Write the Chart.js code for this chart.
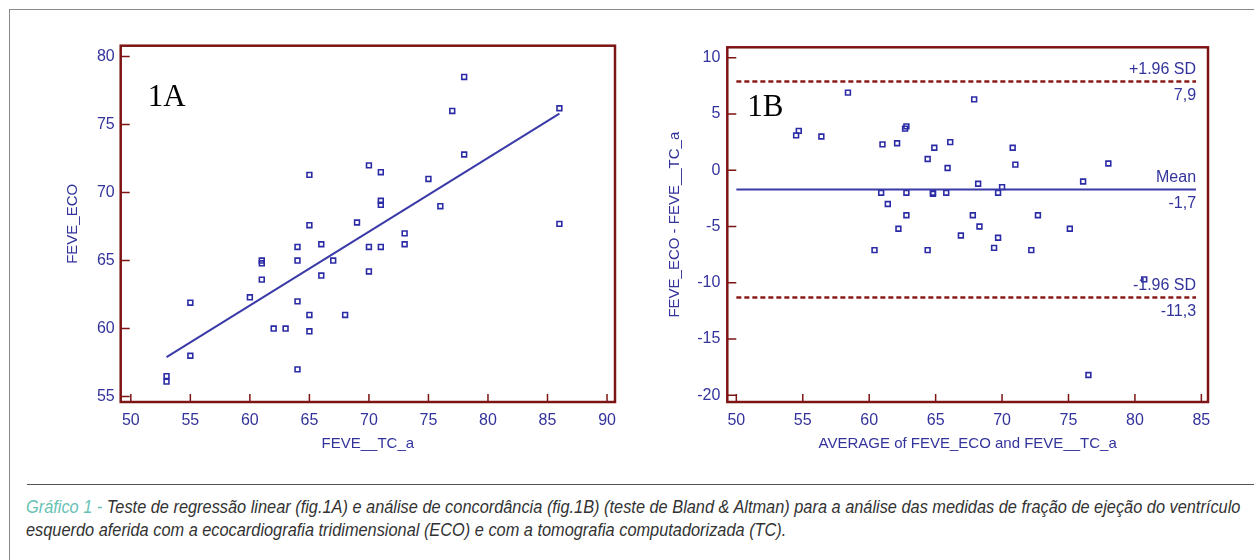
<!DOCTYPE html>
<html lang="pt">
<head>
<meta charset="utf-8">
<script src="https://cdn.jsdelivr.net/npm/chart.js@4.4.1/dist/chart.umd.min.js"></script>
<style>
    html, body { margin: 0; padding: 0; background: #fff; }
    #page { position: relative; width: 1254px; height: 560px; overflow: hidden; }
    #frame { position: absolute; left: 9px; top: 9px; width: 1260px; height: 560px;
        border-top: 1.5px solid #8a8a8a; border-left: 1.5px solid #8a8a8a; }
    #chart-a { position: absolute; left: 0; top: 0; }
    #chart-b { position: absolute; left: 640px; top: 0; }
    #rule { position: absolute; left: 27px; top: 484px; width: 1240px; border-top: 1px solid #555; }
    #caption { position: absolute; left: 26px; top: 496px; white-space: nowrap;
        transform: scaleX(0.908); transform-origin: 0 0;
        font-family: 'Liberation Sans', Arial, sans-serif;
        font-style: italic; font-size: 18px; line-height: 23px; color: #333; }
    #caption .lead { color: #66c2b4; }
</style>
</head>
<body>
<div id="page">
    <div id="frame"></div>
    <canvas id="chart-a" width="640" height="470"></canvas>
    <canvas id="chart-b" width="614" height="470"></canvas>
    <div id="rule"></div>
    <div id="caption"><span class="lead">Gráfico 1 - </span>Teste de regressão linear (fig.1A) e análise de concordância (fig.1B) (teste de Bland &amp; Altman) para a análise das medidas de fração de ejeção do ventrículo<br>esquerdo aferida com a ecocardiografia tridimensional (ECO) e com a tomografia computadorizada (TC).</div>
</div>
<script>
// 1A: FEVE_ECO x FEVE__TC_a
const tcValues = [53, 53, 55, 55, 60, 61, 61, 61, 62, 63, 64, 64, 64, 64, 65, 65, 65, 65, 66, 66,
    67, 68, 69, 70, 70, 70, 71, 71, 71, 71, 73, 73, 75, 76, 77, 78, 78, 86, 86];
const ecoValues = [56.5, 56.1, 58.0, 61.9, 62.3, 65.0, 64.8, 63.6, 60.0, 60.0, 66.0, 65.0, 62.0, 57.0, 71.3, 67.6, 61.0, 59.8, 66.2, 63.9,
    65.0, 61.0, 67.8, 72.0, 66.0, 64.2, 71.5, 69.4, 69.1, 66.0, 67.0, 66.2, 71.0, 69.0, 76.0, 78.5, 72.8, 76.2, 67.7];
const regressionX = [53, 86];
const regressionY = [57.9, 75.8];
const ticksAX = [50, 55, 60, 65, 70, 75, 80, 85, 90];
const ticksAY = [55, 60, 65, 70, 75, 80];

// 1B: Bland & Altman
const averageValues = [54.5, 54.7, 56.4, 58.4, 60.4, 60.9, 61.0, 61.4, 62.1, 62.2, 62.7, 62.8, 62.8, 62.8, 64.4, 64.4, 64.8, 64.8, 64.9, 65.8,
    65.9, 66.1, 66.9, 67.8, 67.9, 68.2, 68.3, 69.4, 69.7, 69.7, 70.0, 70.8, 71.0, 72.2, 72.7, 75.1, 76.1, 76.5, 78.0, 80.7];
const differenceValues = [3.1, 3.5, 3.0, 6.9, -7.1, -2.0, 2.3, -3.0, 2.4, -5.2, 3.7, 3.9, -2.0, -4.0, 1.0, -7.1, -2.0, -2.1, 2.0, -2.0,
    0.2, 2.5, -5.8, -4.0, 6.3, -1.2, -5.0, -6.9, -2.0, -6.0, -1.5, 2.0, 0.5, -7.1, -4.0, -5.2, -1.0, -18.2, 0.6, -9.7];
const limitsX = [50, 84.6];
const meanDiff = -1.7;
const upperLimit = 7.9;
const lowerLimit = -11.3;
const limitLabels = [
    { value: upperLimit, above: '+1.96 SD', below: '7,9' },
    { value: meanDiff, above: 'Mean', below: '-1,7' },
    { value: lowerLimit, above: '-1.96 SD', below: '-11,3' }
];
const ticksBX = [50, 55, 60, 65, 70, 75, 80, 85];
const ticksBY = [-20, -15, -10, -5, 0, 5, 10];

const BLUE = '#33339c';
const MARK = '#2b2ba6';
const FRAME = '#7d1414';
const AXIS_FONT = "'Liberation Sans', Arial, sans-serif";

const toPoints = (xs, ys) => xs.map((x, i) => ({ x, y: ys[i] }));

// ramka wykresu + krotkie kreski podzialki do srodka
const framePlugin = {
    id: 'frame',
    afterDraw(chart, args, opts) {
        const { ctx, chartArea: a, scales } = chart;
        ctx.save();
        ctx.strokeStyle = FRAME;
        ctx.lineWidth = 1.5;
        ctx.beginPath();
        scales.x.ticks.forEach(t => {
            const px = scales.x.getPixelForValue(t.value);
            ctx.moveTo(px, a.bottom);
            ctx.lineTo(px, a.bottom - 8);
        });
        scales.y.ticks.forEach(t => {
            const py = scales.y.getPixelForValue(t.value);
            ctx.moveTo(a.left, py);
            ctx.lineTo(a.left + 9, py);
        });
        ctx.stroke();
        ctx.lineWidth = 2.5;
        ctx.strokeRect(a.left, a.top, a.right - a.left, a.bottom - a.top);

        ctx.fillStyle = '#000';
        ctx.font = "31px 'Liberation Serif', 'Times New Roman', serif";
        ctx.textBaseline = 'alphabetic';
        ctx.fillText(opts.panel, a.left + opts.panelDx, a.top + opts.panelDy);
        ctx.restore();
    }
};

const limitLabelPlugin = {
    id: 'limitLabels',
    afterDatasetsDraw(chart) {
        const { ctx, scales } = chart;
        const xRight = scales.x.getPixelForValue(limitsX[1]);
        ctx.save();
        ctx.fillStyle = BLUE;
        ctx.font = `16px ${AXIS_FONT}`;
        ctx.textAlign = 'right';
        limitLabels.forEach(l => {
            const py = scales.y.getPixelForValue(l.value);
            ctx.textBaseline = 'bottom';
            ctx.fillText(l.above, xRight, py - 4);
            ctx.textBaseline = 'top';
            ctx.fillText(l.below, xRight, py + 6);
        });
        ctx.restore();
    }
};

function axis(tickValues, min, max, fit, title, titlePad, tickPad) {
    return {
        type: 'linear',
        min, max,
        afterBuildTicks: scale => { scale.ticks = tickValues.map(value => ({ value })); },
        afterFit: fit,
        grid: { display: false, drawTicks: false },
        border: { display: false },
        ticks: { color: BLUE, padding: tickPad, font: { family: AXIS_FONT, size: 16 } },
        title: { display: true, text: title, color: BLUE, padding: titlePad, font: { family: AXIS_FONT, size: 15 } }
    };
}

new Chart(document.getElementById('chart-a'), {
    type: 'scatter',
    data: {
        datasets: [
            {
                data: toPoints(regressionX, regressionY),
                showLine: true,
                borderColor: '#3a3aa8',
                borderWidth: 2,
                pointRadius: 0
            },
            {
                data: toPoints(tcValues, ecoValues),
                pointStyle: 'rect',
                pointRadius: 3.4,
                borderWidth: 1.6,
                borderColor: MARK,
                backgroundColor: 'rgba(0,0,0,0)'
            }
        ]
    },
    options: {
        responsive: false,
        animation: false,
        layout: { padding: { top: 45.7, right: 25, left: 0, bottom: 0 } },
        plugins: {
            legend: { display: false },
            tooltip: { enabled: false },
            frame: { panel: '1A', panelDx: 27, panelDy: 60 }
        },
        scales: {
            x: axis(ticksAX, 49.15, 90.67, s => { s.height = 68; }, 'FEVE__TC_a', { top: 0, bottom: 17 }, 9),
            y: axis(ticksAY, 54.6, 80.8, s => { s.width = 120.7; }, 'FEVE_ECO', { top: 64, bottom: 0 }, 6)
        }
    },
    plugins: [framePlugin]
});

new Chart(document.getElementById('chart-b'), {
    type: 'scatter',
    data: {
        datasets: [
            {
                data: toPoints(limitsX, [upperLimit, upperLimit]),
                showLine: true,
                borderColor: '#8b1a1a',
                borderWidth: 2.5,
                borderDash: [5, 3],
                pointRadius: 0
            },
            {
                data: toPoints(limitsX, [lowerLimit, lowerLimit]),
                showLine: true,
                borderColor: '#8b1a1a',
                borderWidth: 2.5,
                borderDash: [5, 3],
                pointRadius: 0
            },
            {
                data: toPoints(limitsX, [meanDiff, meanDiff]),
                showLine: true,
                borderColor: '#3a3aa8',
                borderWidth: 2,
                pointRadius: 0
            },
            {
                data: toPoints(averageValues, differenceValues),
                pointStyle: 'rect',
                pointRadius: 3.4,
                borderWidth: 1.6,
                borderColor: MARK,
                backgroundColor: 'rgba(0,0,0,0)'
            }
        ]
    },
    options: {
        responsive: false,
        animation: false,
        layout: { padding: { top: 47.3, right: 46, left: 0, bottom: 0 } },
        plugins: {
            legend: { display: false },
            tooltip: { enabled: false },
            frame: { panel: '1B', panelDx: 20, panelDy: 69 }
        },
        scales: {
            x: axis(ticksBX, 49.32, 85.5, s => { s.height = 68; }, 'AVERAGE of FEVE_ECO and FEVE__TC_a', { top: 0, bottom: 17 }, 9),
            y: axis(ticksBY, -20.6, 10.93, s => { s.width = 87.3; }, 'FEVE_ECO - FEVE__TC_a', { top: 26, bottom: 0 }, 7)
        }
    },
    plugins: [framePlugin, limitLabelPlugin]
});
</script>
</body>
</html>
